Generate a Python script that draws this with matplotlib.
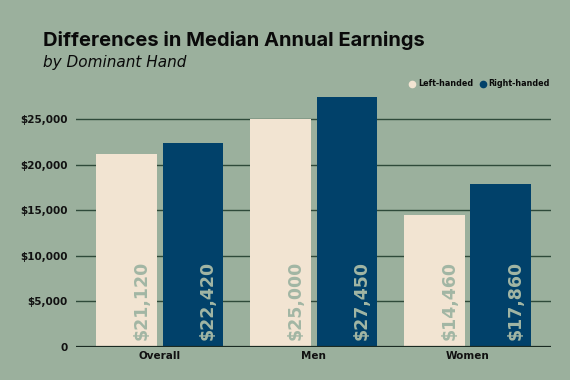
import matplotlib
matplotlib.use("Agg")
import matplotlib.pyplot as plt
from matplotlib.ticker import FuncFormatter
import numpy as np

categories = ["Overall", "Men", "Women"]
left_handed = [21120, 25000, 14460]
right_handed = [22420, 27450, 17860]
series_names = ["Left-handed", "Right-handed"]
yticks = [0, 5000, 10000, 15000, 20000, 25000]

BG = "#9BB09D"
CREAM = "#F2E4D2"
NAVY = "#01416A"
GRID = "#2F4A3A"

fig = plt.figure(figsize=(5.7, 3.8), dpi=100, facecolor=BG)
ax = fig.add_axes([0.1333, 0.0868, 0.8334, 0.672])
ax.set_facecolor(BG)

x = np.arange(len(categories))
w = 0.396
off = 0.215
b1 = ax.bar(x - off, left_handed, width=w, color=CREAM, zorder=2)
b2 = ax.bar(x + off, right_handed, width=w, color=NAVY, zorder=2)

for yv in yticks[1:]:
    ax.axhline(yv, color=GRID, lw=1.0, zorder=1)
ax.axhline(0, color="#1a2a22", lw=1.6, zorder=3)

for bars, vals in ((b1, left_handed), (b2, right_handed)):
    for rect, v in zip(bars, vals):
        cx = rect.get_x() + rect.get_width() / 2 + 0.095
        ax.annotate(f"${v:,}", xy=(cx, 0), xytext=(0, 5), textcoords="offset points",
                    rotation=90, ha="center", va="bottom", fontsize=12.5,
                    fontweight="bold", color="#A2B6A4", zorder=4,
                    family="DejaVu Sans")

ax.set_xlim(-0.545, 2.54)
ax.set_ylim(0, 28000)
ax.set_yticks(yticks)
ax.yaxis.set_major_formatter(FuncFormatter(lambda v, p: "0" if v == 0 else f"${int(v):,}"))
ax.set_xticks(x)
ax.set_xticklabels(categories)
ax.tick_params(axis="both", length=0, labelsize=7.5, labelcolor="#111111")
ax.tick_params(axis="y", pad=6)
ax.tick_params(axis="x", pad=3)
for lab in ax.get_xticklabels() + ax.get_yticklabels():
    lab.set_fontweight("bold")
    lab.set_family("DejaVu Sans")
for s in ax.spines.values():
    s.set_visible(False)

fig.text(43 / 570, 1 - 46 / 380, "Differences in Median Annual Earnings",
         fontsize=14.5, fontweight="bold", color="#0a0a0a", family="Inter",
         ha="left", va="baseline")
fig.text(43 / 570, 1 - 67 / 380, "by Dominant Hand",
         fontsize=11, style="italic", color="#0a0a0a", family="DejaVu Sans",
         ha="left", va="baseline")

# legend
ly = 1 - 84 / 380
fig.add_artist(plt.Line2D([412 / 570], [ly], marker="o", markersize=4.5,
                          color=CREAM, transform=fig.transFigure, lw=0))
fig.text(418 / 570, ly, series_names[0], fontsize=5.8, fontweight="bold",
         color="#0a0a0a", va="center", ha="left")
fig.add_artist(plt.Line2D([483 / 570], [ly], marker="o", markersize=4.5,
                          color=NAVY, transform=fig.transFigure, lw=0))
fig.text(488 / 570, ly, series_names[1], fontsize=5.8, fontweight="bold",
         color="#0a0a0a", va="center", ha="left")

fig.savefig("out.png", dpi=100, facecolor=BG)
